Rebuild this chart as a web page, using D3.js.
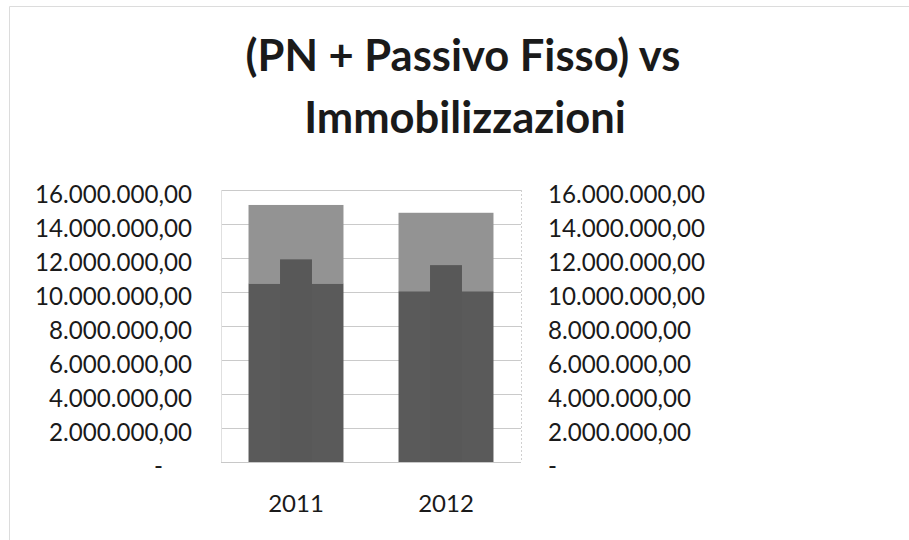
<!DOCTYPE html>
<html>
<head>
<meta charset="utf-8">
<script src="https://cdn.jsdelivr.net/npm/d3@7"></script>
<style>
  html, body { margin: 0; padding: 0; background: #ffffff; }
  svg { display: block; }
  text { font-family: Lato, "Open Sans", sans-serif; fill: #1a1a1a; }
</style>
</head>
<body>
<svg id="chart" width="909" height="540"></svg>
<script>
// ---- data ----
const categories = ["2011", "2012"];
const pn = [10510000, 10050000];                 // Patrimonio Netto
const passivoFisso = [4610000, 4610000];         // Passivo Fisso (stacked on PN)
const immobilizzazioni = [11920000, 11580000];   // secondary axis, narrow bar
const tickValues = [0, 2000000, 4000000, 6000000, 8000000, 10000000, 12000000, 14000000, 16000000];
const titleLines = ["(PN + Passivo Fisso) vs", "Immobilizzazioni"];

// ---- layout ----
const svg = d3.select("#chart");
const plot = { x0: 221, x1: 521, y0: 190, y1: 462 };

const itLocale = d3.formatLocale({ decimal: ",", thousands: ".", grouping: [3], currency: ["", "€"] });
const fmtNum = itLocale.format(",.2f");
const fmt = v => v === 0 ? "-" : fmtNum(v);

// chart area border (light)
svg.append("path")
  .attr("d", `M9.5,${540} L9.5,6.5 L909,6.5`)
  .attr("fill", "none").attr("stroke", "#dcdcdc").attr("stroke-width", 1);

const y = d3.scaleLinear().domain([0, 16000000]).range([plot.y1, plot.y0]);
const y2 = d3.scaleLinear().domain([0, 16000000]).range([plot.y1, plot.y0]);

const x = d3.scaleBand().domain(categories).range([plot.x0, plot.x1])
  .paddingInner(0.367).paddingOuter(0.1835);
const xNarrow = d3.scaleBand().domain(categories).range([plot.x0, plot.x1])
  .paddingInner(0.787).paddingOuter(0.3935);

// gridlines
svg.append("g").selectAll("line").data(tickValues).join("line")
  .attr("x1", plot.x0).attr("x2", plot.x1)
  .attr("y1", d => Math.round(y(d)) + 0.5).attr("y2", d => Math.round(y(d)) + 0.5)
  .attr("stroke", d => d === 0 ? "#c8c8c8" : "#cacaca").attr("stroke-width", 1);

// plot area side borders
svg.append("line").attr("x1", plot.x0 + 0.5).attr("x2", plot.x0 + 0.5)
  .attr("y1", plot.y0).attr("y2", plot.y1).attr("stroke", "#e0e0e0");
svg.append("line").attr("x1", plot.x1 + 0.5).attr("x2", plot.x1 + 0.5)
  .attr("y1", plot.y0).attr("y2", plot.y1).attr("stroke", "#d0d0d0").attr("stroke-dasharray", "2,2");

// stacked bars
const stackData = categories.map((c, i) => ({ cat: c, pn: pn[i], passivo: passivoFisso[i] }));
const stack = d3.stack().keys(["pn", "passivo"])(stackData);
const colors = { pn: "#5a5a5a", passivo: "#939393" };

svg.append("g").selectAll("g").data(stack).join("g")
  .attr("fill", s => colors[s.key])
  .selectAll("rect").data(s => s).join("rect")
  .attr("x", d => x(d.data.cat))
  .attr("width", x.bandwidth())
  .attr("y", d => y(d[1]))
  .attr("height", d => y(d[0]) - y(d[1]));

// narrow secondary-axis bars
svg.append("g").selectAll("rect").data(categories).join("rect")
  .attr("x", c => xNarrow(c))
  .attr("width", xNarrow.bandwidth())
  .attr("y", (c, i) => y2(immobilizzazioni[i]))
  .attr("height", (c, i) => y2(0) - y2(immobilizzazioni[i]))
  .attr("fill", "#585858");

// axes (labels only)
const leftAxis = d3.axisLeft(y).tickValues(tickValues).tickFormat(fmt).tickSize(0).tickPadding(0);
const gL = svg.append("g").attr("transform", "translate(192,0)").call(leftAxis);
gL.select(".domain").remove();
gL.selectAll("text").attr("font-size", 22.5).attr("font-family", "Lato, sans-serif")
  .attr("fill", "#1a1a1a").attr("dy", 12).attr("y", 0)
  .attr("dx", d => d === 0 ? -29 : 0);

const rightAxis = d3.axisRight(y2).tickValues(tickValues).tickFormat(fmt).tickSize(0).tickPadding(0);
const gR = svg.append("g").attr("transform", "translate(548,0)").call(rightAxis);
gR.select(".domain").remove();
gR.selectAll("text").attr("font-size", 22.5).attr("font-family", "Lato, sans-serif")
  .attr("fill", "#1a1a1a").attr("dy", 12).attr("y", 0);

function fitGroup(sel, target) {
  let maxW = 0;
  sel.each(function () { maxW = Math.max(maxW, this.getComputedTextLength()); });
  if (maxW > 0) sel.attr("font-size", 22.5 * target / maxW);
}
fitGroup(gL.selectAll("text"), 157);
fitGroup(gR.selectAll("text"), 157);

// category labels
const xAxis = d3.axisBottom(x).tickSize(0).tickPadding(0);
const gX = svg.append("g").attr("transform", "translate(0,512)").call(xAxis);
gX.select(".domain").remove();
gX.selectAll("text").attr("font-size", 24).attr("font-family", "Lato, sans-serif")
  .attr("fill", "#1a1a1a").attr("dy", 0).attr("y", 0);

// title
const title = svg.append("g");
const t1 = title.append("text").attr("x", 463).attr("y", 71).attr("text-anchor", "middle")
  .attr("font-weight", 700).attr("font-size", 40).text(titleLines[0]);
const t2 = title.append("text").attr("x", 465).attr("y", 133).attr("text-anchor", "middle")
  .attr("font-weight", 700).attr("font-size", 40).text(titleLines[1]);
const w1 = t1.node().getComputedTextLength();
const ts = 40 * 435 / w1;
t1.attr("font-size", ts);
t2.attr("font-size", ts);
</script>
</body>
</html>
